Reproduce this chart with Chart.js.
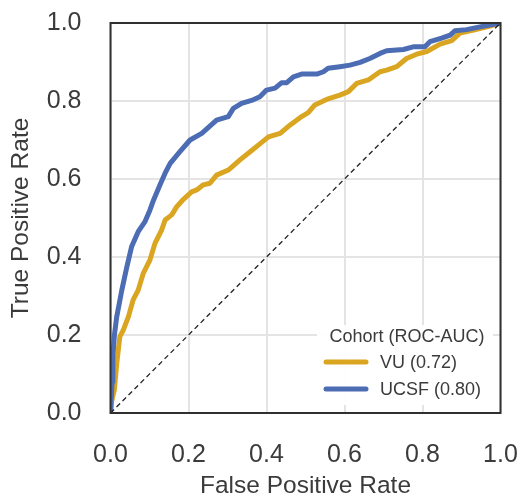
<!DOCTYPE html>
<html>
<head>
<meta charset="utf-8">
<script src="https://cdn.jsdelivr.net/npm/chart.js@4/dist/chart.umd.min.js"></script>
<style>
  html, body { margin: 0; padding: 0; background: #ffffff; }
  #wrap { width: 521px; height: 498px; }
</style>
</head>
<body>
<div id="wrap"><canvas id="c" width="521" height="498"></canvas></div>
<script>
// ---- data ----
const tickValues = [0.0, 0.2, 0.4, 0.6, 0.8, 1.0];

const vuLabel = 'VU (0.72)';
const vuFpr = [0, 0.003, 0.010, 0.016, 0.024, 0.033, 0.046, 0.058, 0.071, 0.084, 0.101, 0.114, 0.131, 0.140, 0.157, 0.170, 0.187, 0.208, 0.221, 0.238, 0.255, 0.272, 0.302, 0.332, 0.358, 0.383, 0.405, 0.435, 0.460, 0.490, 0.507, 0.524, 0.554, 0.588, 0.610, 0.631, 0.661, 0.691, 0.708, 0.734, 0.759, 0.785, 0.811, 0.845, 0.875, 0.896, 0.931, 0.973, 1.0];
const vuTpr = [0, 0.030, 0.060, 0.127, 0.196, 0.213, 0.247, 0.290, 0.315, 0.358, 0.392, 0.435, 0.469, 0.495, 0.508, 0.529, 0.548, 0.567, 0.572, 0.585, 0.589, 0.610, 0.623, 0.649, 0.670, 0.690, 0.708, 0.717, 0.738, 0.760, 0.770, 0.790, 0.804, 0.815, 0.824, 0.845, 0.854, 0.875, 0.879, 0.888, 0.909, 0.920, 0.927, 0.946, 0.955, 0.974, 0.982, 0.992, 1.0];

const ucsfLabel = 'UCSF (0.80)';
const ucsfFpr = [0, 0.004, 0.006, 0.010, 0.016, 0.029, 0.042, 0.054, 0.071, 0.088, 0.101, 0.110, 0.127, 0.140, 0.153, 0.178, 0.204, 0.234, 0.272, 0.302, 0.315, 0.336, 0.366, 0.383, 0.400, 0.422, 0.439, 0.452, 0.469, 0.490, 0.529, 0.546, 0.558, 0.588, 0.614, 0.640, 0.665, 0.691, 0.708, 0.751, 0.776, 0.806, 0.819, 0.849, 0.871, 0.883, 0.913, 0.947, 1.0];
const ucsfTpr = [0, 0.080, 0.144, 0.200, 0.247, 0.315, 0.375, 0.426, 0.465, 0.490, 0.520, 0.545, 0.585, 0.615, 0.640, 0.670, 0.700, 0.717, 0.751, 0.760, 0.781, 0.794, 0.803, 0.811, 0.828, 0.833, 0.847, 0.847, 0.862, 0.869, 0.869, 0.875, 0.884, 0.888, 0.892, 0.899, 0.909, 0.922, 0.929, 0.932, 0.939, 0.939, 0.952, 0.961, 0.969, 0.980, 0.983, 0.990, 1.0];

const chanceX = [0, 1];
const chanceY = [0, 1];

const legendTitle = 'Cohort (ROC-AUC)';
const xTitle = 'False Positive Rate';
const yTitle = 'True Positive Rate';

// ---- styles ----
const FONT = "'Liberation Sans', Arial, Helvetica, sans-serif";
const TEXT = '#3b3b3b';
const ORANGE = '#DAA520';
const BLUE = '#4C6CB4';
const GRID = '#e4e4e4';
const SPINE = '#303030';

const toPts = (xs, ys) => xs.map((x, i) => ({ x: x, y: ys[i] }));

const framePlugin = {
  id: 'frame',
  afterDatasetsDraw(chart) {
    const { ctx, chartArea: a } = chart;
    ctx.save();
    ctx.strokeStyle = SPINE;
    ctx.lineWidth = 2;
    ctx.strokeRect(a.left, a.top, a.right - a.left, a.bottom - a.top);
    ctx.restore();
  }
};

const legendPlugin = {
  id: 'customLegend',
  afterDraw(chart) {
    const { ctx, chartArea: a } = chart;
    const w = 176, h = 80;
    const left = a.right - 7.5 - w;
    const top = a.bottom - 8 - h;
    ctx.save();
    ctx.fillStyle = 'rgba(255,255,255,0.95)';
    ctx.beginPath();
    if (ctx.roundRect) ctx.roundRect(left, top, w, h, 4); else ctx.rect(left, top, w, h);
    ctx.fill();
    ctx.fillStyle = TEXT;
    ctx.font = '18px ' + FONT;
    ctx.textBaseline = 'middle';
    ctx.textAlign = 'center';
    ctx.fillText(legendTitle, left + 90, top + 12);
    const items = chart.data.datasets.filter(d => d.inLegend);
    items.forEach((d, i) => {
      const y = top + 37 + i * 27;
      ctx.strokeStyle = d.borderColor;
      ctx.lineWidth = 5;
      ctx.lineCap = 'round';
      ctx.beginPath();
      ctx.moveTo(left + 9, y);
      ctx.lineTo(left + 49, y);
      ctx.stroke();
      ctx.textAlign = 'left';
      ctx.fillStyle = TEXT;
      ctx.fillText(d.label, left + 63, y + 1);
    });
    ctx.restore();
  }
};

new Chart(document.getElementById('c'), {
  type: 'scatter',
  data: {
    datasets: [
      { label: vuLabel, inLegend: true, data: toPts(vuFpr, vuTpr), showLine: true,
        borderColor: ORANGE, backgroundColor: ORANGE, borderWidth: 5, pointRadius: 0,
        tension: 0, borderJoinStyle: 'round', borderCapStyle: 'round', order: 3 },
      { label: ucsfLabel, inLegend: true, data: toPts(ucsfFpr, ucsfTpr), showLine: true,
        borderColor: BLUE, backgroundColor: BLUE, borderWidth: 5, pointRadius: 0,
        tension: 0, borderJoinStyle: 'round', borderCapStyle: 'round', order: 2 },
      { label: 'chance', inLegend: false, data: toPts(chanceX, chanceY), showLine: true,
        borderColor: '#222222', borderWidth: 1.3, borderDash: [5, 3.5], pointRadius: 0, order: 1 }
    ]
  },
  options: {
    responsive: false,
    animation: false,
    devicePixelRatio: 1,
    layout: { padding: { top: 23, right: 20.5, left: 0, bottom: 0 } },
    scales: {
      x: {
        type: 'linear', min: 0, max: 1,
        afterBuildTicks: s => { s.ticks = tickValues.map(v => ({ value: v })); },
        afterFit: s => { s.height = 85; s.paddingLeft = 0; s.paddingRight = 0; },
        ticks: { callback: v => Number(v).toFixed(1), color: TEXT, font: { family: FONT, size: 25 }, padding: 27, maxRotation: 0 },
        grid: { color: GRID, lineWidth: 2, drawTicks: false },
        border: { display: false },
        title: { display: true, text: xTitle, color: TEXT, font: { family: FONT, size: 24.5, lineHeight: 1 }, padding: { top: 0, bottom: 0 } }
      },
      y: {
        type: 'linear', min: 0, max: 1,
        afterBuildTicks: s => { s.ticks = tickValues.map(v => ({ value: v })); },
        afterFit: s => { s.width = 110.5; s.paddingTop = 0; s.paddingBottom = 0; },
        ticks: { callback: v => Number(v).toFixed(1), color: TEXT, font: { family: FONT, size: 25 }, padding: 29 },
        grid: { color: GRID, lineWidth: 2, drawTicks: false },
        border: { display: false },
        title: { display: true, text: yTitle, color: TEXT, font: { family: FONT, size: 24.5, lineHeight: 1 }, padding: { top: 9, bottom: 0 } }
      }
    },
    plugins: { legend: { display: false }, tooltip: { enabled: false } }
  },
  plugins: [framePlugin, legendPlugin]
});
</script>
</body>
</html>
